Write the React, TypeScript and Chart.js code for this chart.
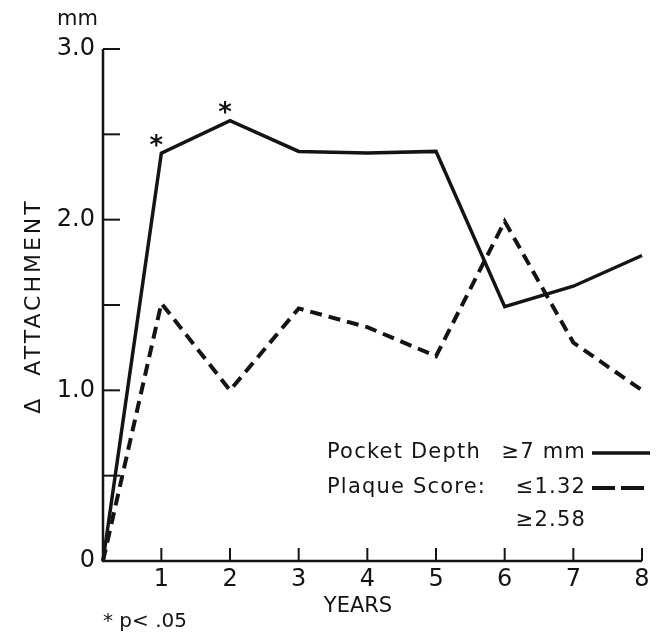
import React, { useEffect, useRef } from "react";
import { Chart, registerables } from "chart.js";

Chart.register(...registerables);

// ---- data ----
const years = [0.15, 1, 2, 3, 4, 5, 6, 7, 8];
const pocketDepth = [0, 2.39, 2.58, 2.4, 2.39, 2.4, 1.49, 1.61, 1.79];
const plaqueScore = [0, 1.51, 1.0, 1.48, 1.37, 1.2, 1.99, 1.28, 1.0];
const xTickValues = [1, 2, 3, 4, 5, 6, 7, 8];
const xTickLabels = ["1", "2", "3", "4", "5", "6", "7", "8"];
const yTickValues = [0.5, 1.0, 1.5, 2.0, 2.5, 3.0];
const yLabelValues = [0, 1, 2, 3];
const yLabelTexts = ["0", "1.0", "2.0", "3.0"];
const significantYears = [1, 2];
const X_MIN = 0.15;
const X_MAX = 8;
const Y_MIN = 0;
const Y_MAX = 3;

const FONT = '"DejaVu Sans", sans-serif';
const INK = "#141414";

const axesPlugin = {
  id: "customAxes",
  afterDraw(chart: any) {
    const { ctx, scales } = chart;
    const x = scales.x;
    const y = scales.y;
    const x0 = x.getPixelForValue(X_MIN);
    const x8 = x.getPixelForValue(X_MAX);
    const y0 = y.getPixelForValue(Y_MIN);
    const yTop = y.getPixelForValue(Y_MAX);
    ctx.save();
    ctx.strokeStyle = INK;
    ctx.fillStyle = INK;
    ctx.lineWidth = 2.5;
    ctx.lineCap = "butt";
    // axes
    ctx.beginPath();
    ctx.moveTo(x0, yTop);
    ctx.lineTo(x0, y0);
    ctx.lineTo(x8, y0);
    ctx.stroke();
    // y ticks (pointing inward)
    ctx.lineWidth = 2;
    yTickValues.forEach((v) => {
      const py = y.getPixelForValue(v);
      ctx.beginPath();
      ctx.moveTo(x0, py);
      ctx.lineTo(x0 + 17, py);
      ctx.stroke();
    });
    // x ticks (pointing inward)
    xTickValues.forEach((v) => {
      const px = x.getPixelForValue(v);
      ctx.beginPath();
      ctx.moveTo(px, y0);
      ctx.lineTo(px, y0 - 13);
      ctx.stroke();
    });
    // y labels
    ctx.font = `24px ${FONT}`;
    ctx.textAlign = "right";
    ctx.textBaseline = "middle";
    yLabelValues.forEach((v, i) => {
      ctx.fillText(yLabelTexts[i], x0 - 8, y.getPixelForValue(v));
    });
    // x labels
    ctx.textAlign = "center";
    ctx.textBaseline = "top";
    xTickValues.forEach((v, i) => {
      ctx.fillText(xTickLabels[i], x.getPixelForValue(v), y0 + 7);
    });
    // unit
    ctx.font = `21px ${FONT}`;
    ctx.textAlign = "right";
    ctx.textBaseline = "middle";
    ctx.fillText("mm", x0 - 5, 20);
    // x title
    ctx.textAlign = "center";
    ctx.font = `21px ${FONT}`;
    ctx.fillText("YEARS", 358, 607);
    // footnote
    ctx.textAlign = "left";
    ctx.font = `20px ${FONT}`;
    ctx.fillText("* p< .05", 103, 622);
    // y title
    ctx.save();
    ctx.translate(34, 306);
    ctx.rotate(-Math.PI / 2);
    ctx.textAlign = "center";
    ctx.font = `22px ${FONT}`;
    (ctx as any).letterSpacing = "3px";
    ctx.fillText("Δ  ATTACHMENT", 0, 0);
    ctx.restore();
    // significance asterisks
    ctx.font = `bold 26px ${FONT}`;
    ctx.textAlign = "center";
    ctx.textBaseline = "middle";
    significantYears.forEach((yr) => {
      const idx = years.indexOf(yr);
      const px = x.getPixelForValue(yr);
      const py = y.getPixelForValue(pocketDepth[idx]);
      ctx.fillText("*", px - 5, py - 6);
    });
    // legend
    ctx.font = `21px ${FONT}`;
    (ctx as any).letterSpacing = "1.2px";
    ctx.textBaseline = "middle";
    ctx.textAlign = "left";
    ctx.fillText("Pocket Depth", 327, 453);
    ctx.fillText("Plaque Score:", 327, 488);
    ctx.textAlign = "right";
    ctx.fillText("≥7 mm", 586, 453);
    ctx.fillText("≤1.32", 586, 488);
    ctx.fillText("≥2.58", 586, 521);
    (ctx as any).letterSpacing = "0px";
    ctx.lineWidth = 3.5;
    ctx.beginPath();
    ctx.moveTo(592, 453);
    ctx.lineTo(650, 453);
    ctx.stroke();
    ctx.lineWidth = 4;
    ctx.setLineDash([23, 6]);
    ctx.beginPath();
    ctx.moveTo(592, 488);
    ctx.lineTo(644, 488);
    ctx.stroke();
    ctx.setLineDash([]);
    ctx.restore();
  },
};

export default function App() {
  const ref = useRef<HTMLCanvasElement | null>(null);
  useEffect(() => {
    document.body.style.margin = "0";
    const canvas = ref.current;
    if (!canvas) return;
    const chart = new Chart(canvas, {
      type: "line",
      data: {
        datasets: [
          {
            label: "Pocket Depth ≥7 mm",
            data: years.map((yr, i) => ({ x: yr, y: pocketDepth[i] })),
            borderColor: INK,
            borderWidth: 3.5,
            pointRadius: 0,
            fill: false,
            tension: 0,
            clip: false as any,
          },
          {
            label: "Plaque Score",
            data: years.map((yr, i) => ({ x: yr, y: plaqueScore[i] })),
            borderColor: INK,
            borderWidth: 4,
            borderDash: [12, 7],
            pointRadius: 0,
            fill: false,
            tension: 0,
            clip: false as any,
          },
        ],
      },
      options: {
        responsive: false,
        animation: false,
        devicePixelRatio: 1,
        layout: { padding: { left: 103, right: 15, top: 49, bottom: 71 } },
        plugins: { legend: { display: false }, tooltip: { enabled: false } },
        scales: {
          x: { type: "linear", min: X_MIN, max: X_MAX, display: false },
          y: { type: "linear", min: Y_MIN, max: Y_MAX, display: false },
        },
      },
      plugins: [axesPlugin],
    });
    return () => chart.destroy();
  }, []);
  return (
    <div style={{ width: 657, height: 632, background: "#fff" }}>
      <canvas ref={ref} width={657} height={632} />
    </div>
  );
}
